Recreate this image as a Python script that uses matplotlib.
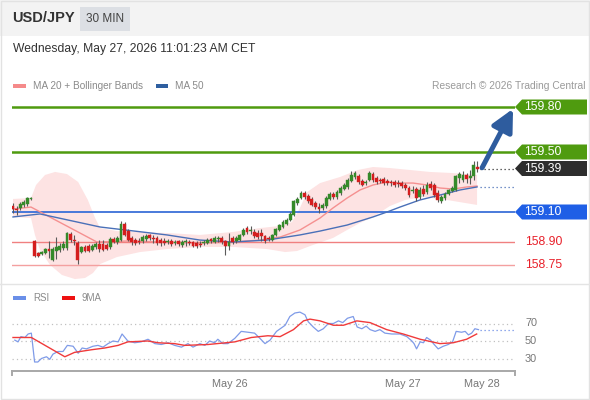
import matplotlib
matplotlib.use('Agg')
import matplotlib.pyplot as plt
from matplotlib.patches import Rectangle, Polygon
import matplotlib.transforms as mtransforms

plt.rcParams['font.family'] = ['Liberation Sans', 'DejaVu Sans']

# ---------------- data ----------------
opens = [159.140, 159.120, 159.127, 159.147, 159.153, 159.187, 158.907, 158.827, 158.820, 158.827,
         158.853, 158.780, 158.840, 158.847, 158.860, 158.860, 158.953, 158.913, 158.893, 158.833,
         158.867, 158.873, 158.847, 158.867, 158.887, 158.887, 158.880, 158.867, 158.920, 158.900,
         158.913, 159.020, 158.973, 158.927, 158.913, 158.907, 158.907, 158.920, 158.947, 158.927,
         158.927, 158.913, 158.907, 158.900, 158.907, 158.893, 158.907, 158.880, 158.900, 158.900,
         158.900, 158.893, 158.887, 158.893, 158.893, 158.920, 158.900, 158.920, 158.927, 158.907,
         158.873, 158.927, 158.907, 158.913, 158.947, 158.993, 158.973, 158.967, 158.960, 158.960,
         158.940, 158.927, 158.913, 158.947, 158.980, 159.000, 159.020, 159.047, 159.080, 159.160,
         159.193, 159.227, 159.207, 159.187, 159.160, 159.133, 159.127, 159.140, 159.187, 159.220,
         159.200, 159.227, 159.253, 159.267, 159.307, 159.333, 159.340, 159.307, 159.293, 159.313,
         159.353, 159.327, 159.313, 159.320, 159.307, 159.300, 159.300, 159.293, 159.293, 159.280,
         159.260, 159.240, 159.253, 159.200, 159.253, 159.233, 159.287, 159.280, 159.227, 159.173,
         159.193, 159.220, 159.240, 159.247, 159.327, 159.313, 159.347, 159.327, 159.340, 159.400]
highs = [159.160, 159.140, 159.167, 159.180, 159.200, 159.200, 158.913, 158.833, 158.840, 158.860,
         158.907, 158.867, 158.933, 158.893, 158.907, 158.967, 158.967, 158.947, 158.907, 158.873,
         158.880, 158.887, 158.887, 158.900, 158.913, 158.913, 158.893, 158.933, 158.933, 158.940,
         159.040, 159.033, 158.987, 158.940, 158.927, 158.927, 158.947, 158.953, 158.953, 158.947,
         158.940, 158.927, 158.927, 158.920, 158.920, 158.913, 158.913, 158.913, 158.920, 158.913,
         158.907, 158.907, 158.907, 158.913, 158.927, 158.927, 158.940, 158.940, 158.940, 158.913,
         158.960, 158.940, 158.940, 158.953, 158.993, 159.007, 159.007, 158.987, 158.980, 158.987,
         158.947, 158.940, 158.953, 158.993, 159.020, 159.047, 159.060, 159.100, 159.180, 159.200,
         159.240, 159.240, 159.220, 159.200, 159.173, 159.160, 159.160, 159.207, 159.233, 159.233,
         159.247, 159.273, 159.293, 159.327, 159.373, 159.373, 159.353, 159.320, 159.313, 159.373,
         159.367, 159.340, 159.327, 159.333, 159.320, 159.313, 159.313, 159.313, 159.307, 159.293,
         159.273, 159.273, 159.267, 159.267, 159.280, 159.300, 159.307, 159.293, 159.247, 159.213,
         159.233, 159.253, 159.273, 159.347, 159.367, 159.373, 159.360, 159.380, 159.440, 159.440]
lows = [159.093, 159.080, 159.113, 159.133, 159.140, 159.180, 158.800, 158.800, 158.813, 158.820,
        158.793, 158.773, 158.787, 158.833, 158.847, 158.847, 158.900, 158.880, 158.753, 158.827,
        158.833, 158.833, 158.840, 158.853, 158.833, 158.840, 158.847, 158.853, 158.893, 158.887,
        158.907, 158.940, 158.907, 158.880, 158.880, 158.887, 158.893, 158.907, 158.913, 158.893,
        158.880, 158.873, 158.880, 158.887, 158.873, 158.880, 158.873, 158.867, 158.873, 158.880,
        158.867, 158.860, 158.867, 158.880, 158.887, 158.893, 158.893, 158.900, 158.887, 158.813,
        158.847, 158.887, 158.893, 158.907, 158.940, 158.953, 158.953, 158.927, 158.920, 158.907,
        158.893, 158.907, 158.907, 158.940, 158.973, 158.993, 159.013, 159.040, 159.073, 159.147,
        159.187, 159.187, 159.160, 159.140, 159.120, 159.093, 159.113, 159.127, 159.180, 159.187,
        159.187, 159.213, 159.247, 159.253, 159.300, 159.320, 159.287, 159.273, 159.280, 159.307,
        159.300, 159.287, 159.293, 159.280, 159.280, 159.273, 159.267, 159.267, 159.260, 159.247,
        159.200, 159.227, 159.173, 159.187, 159.207, 159.220, 159.247, 159.200, 159.167, 159.160,
        159.180, 159.213, 159.233, 159.240, 159.293, 159.300, 159.293, 159.287, 159.313, 159.367]
closes = [159.120, 159.113, 159.153, 159.167, 159.193, 159.193, 158.807, 158.807, 158.833, 158.853,
          158.840, 158.853, 158.867, 158.873, 158.887, 158.960, 158.913, 158.907, 158.780, 158.867,
          158.840, 158.840, 158.873, 158.887, 158.853, 158.847, 158.853, 158.920, 158.900, 158.927,
          159.020, 158.947, 158.913, 158.900, 158.893, 158.900, 158.933, 158.940, 158.927, 158.920,
          158.893, 158.893, 158.893, 158.907, 158.887, 158.900, 158.887, 158.900, 158.907, 158.893,
          158.873, 158.873, 158.880, 158.900, 158.913, 158.907, 158.927, 158.927, 158.900, 158.873,
          158.900, 158.900, 158.927, 158.947, 158.980, 158.967, 158.980, 158.940, 158.933, 158.940,
          158.907, 158.920, 158.947, 158.987, 159.013, 159.033, 159.047, 159.087, 159.173, 159.187,
          159.227, 159.200, 159.173, 159.147, 159.133, 159.120, 159.147, 159.193, 159.220, 159.200,
          159.233, 159.260, 159.280, 159.313, 159.347, 159.360, 159.300, 159.280, 159.300, 159.360,
          159.313, 159.300, 159.307, 159.293, 159.293, 159.293, 159.280, 159.287, 159.273, 159.260,
          159.213, 159.247, 159.193, 159.247, 159.220, 159.280, 159.260, 159.213, 159.180, 159.200,
          159.220, 159.247, 159.260, 159.340, 159.353, 159.347, 159.320, 159.340, 159.413, 159.390]

ma20_idx = [0, 5, 23.3, 32.5, 40.8, 51.9, 61.1, 68.6, 74.2, 79.7, 85.3, 88.9, 92.8, 96.4, 100,
            103.9, 107.5, 111.1, 115, 118.6, 122.2, 126.1, 128.9]
ma20_val = [159.120, 159.133, 158.900, 158.907, 158.900, 158.893, 158.900, 158.913, 158.933, 158.980,
            159.060, 159.127, 159.193, 159.247, 159.280, 159.300, 159.293, 159.293, 159.280, 159.260,
            159.253, 159.267, 159.273]
ma50_idx = [0, 7.5, 24.2, 42.8, 51.9, 61.1, 70.6, 79.7, 85.3, 92.8, 100, 103.9, 107.5, 113, 118.6,
            124.2, 128.9]
ma50_val = [159.067, 159.087, 159.000, 158.947, 158.913, 158.900, 158.913, 158.947, 158.973, 159.013,
            159.067, 159.100, 159.133, 159.180, 159.213, 159.247, 159.267]
bb_up_idx = [0, 5, 6.4, 8.9, 11.7, 15, 18.1, 20.8, 22.8, 24.2, 28.9, 33.3, 42.8, 51.9, 61.1, 68.6,
             74.2, 77.5, 79.7, 81.7, 85.3, 90.8, 95.8, 100, 104.7, 110.3, 115.8, 121.9, 128.9]
bb_up_val = [159.187, 159.193, 159.280, 159.347, 159.367, 159.353, 159.300, 159.180, 159.060, 158.993,
             158.973, 158.967, 158.960, 158.947, 158.967, 158.993, 159.007, 159.033, 159.127, 159.233,
             159.293, 159.333, 159.380, 159.400, 159.393, 159.380, 159.367, 159.360, 159.347]
bb_lo_idx = [0, 5, 6.1, 7.5, 10.3, 13.6, 17.2, 20, 22.2, 24.2, 28.9, 35.3, 42.8, 51.9, 61.1, 70.6,
             75.6, 78.9, 83.3, 88.9, 92.8, 96.4, 100, 104.7, 108.9, 113.9, 120.6, 125.6, 128.9]
bb_lo_val = [159.067, 159.060, 158.947, 158.847, 158.747, 158.680, 158.653, 158.660, 158.693, 158.753,
             158.800, 158.833, 158.853, 158.867, 158.867, 158.853, 158.833, 158.840, 158.880, 158.927,
             158.980, 159.027, 159.067, 159.140, 159.180, 159.200, 159.180, 159.160, 159.147]

rsi_idx = [0.5, 1.4, 2.2, 3.3, 4.2, 5.1, 6, 6.9, 7.9, 9.3, 10.2, 11.1, 12.5, 13.9, 15.1, 16.7, 18.1,
           19.2, 20.4, 22.2, 23.6, 25, 26.4, 27.8, 29.2, 30.3, 31.9, 33.8, 35.6, 37.5, 39.4, 41.2,
           43.1, 44.9, 46.8, 48.6, 50, 51.9, 53.3, 54.6, 56, 56.9, 58.3, 59.7, 61.6, 63.4, 65.3,
           67.1, 68.6, 70, 71.4, 73.2, 75.6, 76.9, 78.3, 79.7, 81.1, 82, 83.4, 84.8, 86.2, 87.6, 89,
           90.4, 91.6, 92.9, 94.5, 95.6, 96.9, 98.1, 99.2, 100.6, 101.9, 103.3, 105.2, 107.5, 109.4,
           110.8, 111.4, 112.1, 113.1, 114, 114.9, 116, 117, 118.1, 119.5, 120.9, 122.1, 123.1,
           124.6, 125.6, 126.5, 127.4, 128.3, 129.3]
rsi_val = [51, 49, 55, 54, 58, 59, 26, 26, 30, 32, 29, 35, 38, 38, 45, 44, 36, 42, 41, 44, 45, 43,
           47, 50, 49, 58, 50, 48, 49, 52, 47, 46, 48, 45, 43, 47, 43, 47, 45, 50, 48, 52, 47, 47,
           53, 61, 60, 59, 53, 47, 51, 61, 68, 78, 82, 83, 80, 72, 66, 61, 64, 70, 70, 73, 71, 76,
           78, 66, 64, 67, 63, 61, 63, 59, 58, 58, 55, 50, 47, 41, 49, 48, 54, 51, 46, 41, 44, 46,
           49, 61, 60, 61, 57, 59, 64, 63]
ma9_idx = [0, 5.1, 14.4, 17.1, 21.8, 25.5, 29.2, 31.9, 37.5, 40.3, 44.9, 47.7, 54.2, 61.6, 66.2,
           70.8, 74.2, 77.9, 80.7, 82.5, 85.3, 89, 91.8, 95.5, 99.2, 103.8, 108.4, 113.1, 118.6,
           122.3, 126, 128.8]
ma9_val = [54, 54, 32, 37, 40, 42, 45, 49, 50, 48, 47, 45, 46, 49, 54, 56, 55, 63, 73, 75, 73, 68,
           68, 73, 71, 63, 58, 52, 47, 48, 52, 58]

levels = [159.80, 159.50, 159.10, 158.90, 158.75]
last_price = 159.39
target = 159.80
rsi_levels = [70, 50, 30]
date_ticks = [60.3, 108.3, 130.2]
date_labels = ['May 26', 'May 27', 'May 28']

# ---------------- layout helpers ----------------
W, H = 590, 400
fig = plt.figure(figsize=(W / 100, H / 100), dpi=100)
fig.patch.set_facecolor('white')

def fx(px):
    return px / W

def fy(py):
    return 1 - py / H

GREEN_UP = '#358a2a'
RED_DN = '#d41e1e'
GREEN_LVL = '#4f9b0f'
BLUE_LVL = '#1f5fe6'
RED_LVL = '#e8202a'
GRAY_TXT = '#8a8a8a'

# header
fig.add_artist(Rectangle((0, fy(36)), 1, 36 / H, transform=fig.transFigure,
                         facecolor='#f3f3f3', edgecolor='none', zorder=0))
fig.add_artist(Rectangle((fx(80), fy(31)), fx(50), 24 / H, transform=fig.transFigure,
                         facecolor='#dcdfe4', edgecolor='none', zorder=1))
fig.text(fx(12), fy(18), 'USD/JPY', fontsize=10.5, fontweight='bold', color='#333333',
         va='center', ha='left')
fig.text(fx(105), fy(19), '30 MIN', fontsize=8.5, color='#444444', va='center', ha='center')
fig.text(fx(13), fy(49), 'Wednesday, May 27, 2026 11:01:23 AM CET', fontsize=8.7,
         color='#333333', va='center', ha='left')

# legend top
fig.add_artist(Rectangle((fx(13), fy(88)), fx(13), 4 / H, transform=fig.transFigure,
                         facecolor='#f58a8a', edgecolor='none'))
fig.text(fx(33), fy(86), 'MA 20 + Bollinger Bands', fontsize=7.2, color=GRAY_TXT,
         va='center', ha='left')
fig.add_artist(Rectangle((fx(156), fy(88)), fx(12), 4 / H, transform=fig.transFigure,
                         facecolor='#2f5fa0', edgecolor='none'))
fig.text(fx(175), fy(86), 'MA 50', fontsize=7.2, color=GRAY_TXT, va='center', ha='left')
fig.text(fx(586), fy(86), 'Research \u00a9 2026 Trading Central', fontsize=7.4,
         color='#9a9a9a', va='center', ha='right')

# separator and frame
fig.add_artist(plt.Line2D([0, 1], [fy(284), fy(284)], transform=fig.transFigure,
                          color='#e4e4e4', lw=1))
fig.add_artist(Rectangle((0.001, 0.002), 0.997, 0.996, transform=fig.transFigure,
                         facecolor='none', edgecolor='#e2e2e2', lw=1))

# ---------------- main price axes ----------------
n = len(closes)
x0_px, x1_px = 12, 515
step = 3.6
xl = ((x0_px - 13) / step, (x1_px - 13) / step)
ax = fig.add_axes([fx(x0_px), fy(282), fx(x1_px) - fx(x0_px), (282 - 95) / H])
ax.set_xlim(*xl)
ax.set_ylim(159.5 - 130 / 150, 159.5 + 57 / 150)
ax.axis('off')

# bollinger band
band_pts = list(zip(bb_up_idx, bb_up_val)) + list(zip(bb_lo_idx[::-1], bb_lo_val[::-1]))
ax.add_patch(Polygon(band_pts, closed=True, facecolor='#fde0e0', edgecolor='none',
                     alpha=0.9, zorder=1))

# level lines
lvl_colors = [GREEN_LVL, GREEN_LVL, '#3a6fd8', '#f08080', '#f4a0a0']
lvl_widths = [1.8, 1.8, 1.3, 1.0, 1.0]
for lv, c, lw in zip(levels, lvl_colors, lvl_widths):
    ax.axhline(lv, color=c, lw=lw, zorder=2)

# moving averages
ax.plot(ma20_idx, ma20_val, color='#f59090', lw=1.0, zorder=3)
ax.plot(ma50_idx, ma50_val, color='#4a70b8', lw=1.0, zorder=3)

# candles
for i in range(n):
    o, h, l, c = opens[i], highs[i], lows[i], closes[i]
    col = GREEN_UP if c >= o else RED_DN
    ax.vlines(i, l, h, color='#5a5a5a', lw=0.8, zorder=4)
    body = max(abs(c - o), 0.005)
    ax.bar(i, body, bottom=min(o, c), width=0.8, color=col, edgecolor=col, lw=0.3, zorder=5)

# dotted lines to labels
ax.hlines(last_price, n - 0.4, xl[1], colors='#333333', lw=0.9, linestyles=(0, (1, 2.2)),
          zorder=3)
ax.hlines(ma50_val[-1], n - 0.4, xl[1], colors='#4a70b8', lw=0.9, linestyles=(0, (1, 2.2)),
          zorder=3)

# arrow
ax.annotate('', xy=(138.9, target - 0.012), xytext=(n + 0.3, last_price + 0.005),
            arrowprops=dict(arrowstyle='-|>,head_length=0.6,head_width=0.3', lw=3.6,
                            color='#2e5c9e', shrinkA=0, shrinkB=0, mutation_scale=22),
            annotation_clip=False, zorder=6)

# right labels
blend = mtransforms.blended_transform_factory(fig.transFigure, ax.transData)
hh = 7.5 / 150

def tag(price, text, face):
    pts = [(fx(515), price), (fx(522), price + hh), (fx(587), price + hh),
           (fx(587), price - hh), (fx(522), price - hh)]
    ax.add_patch(Polygon(pts, closed=True, transform=blend, facecolor=face, edgecolor='none',
                         clip_on=False, zorder=7))
    ax.text(fx(524), price, text, transform=blend, ha='left', va='center', color='white',
            fontsize=8.7, clip_on=False, zorder=8)

tag(levels[0], f'{levels[0]:.2f}', GREEN_LVL)
tag(levels[1], f'{levels[1]:.2f}', GREEN_LVL)
tag(last_price, f'{last_price:.2f}', '#2d2d2d')
tag(levels[2], f'{levels[2]:.2f}', BLUE_LVL)
for lv in levels[3:]:
    ax.text(fx(525), lv, f'{lv:.2f}', transform=blend, ha='left', va='center', color=RED_LVL,
            fontsize=8.7, clip_on=False)

# ---------------- RSI axes ----------------
rax = fig.add_axes([fx(x0_px), fy(371), fx(x1_px) - fx(x0_px), (371 - 310) / H])
rax.set_xlim(*xl)
rax.set_ylim(50 - 30 / 0.875, 50 + 31 / 0.875)
for s in ['top', 'left', 'right']:
    rax.spines[s].set_visible(False)
rax.spines['bottom'].set_color('#a8a8a8')
rax.spines['bottom'].set_linewidth(1.4)
rax.set_yticks([])
rax.set_xticks(date_ticks)
rax.set_xticklabels(date_labels, fontsize=7.8, color='#777777')
rax.tick_params(axis='x', length=0, pad=6)
for xe in xl:
    rax.plot([xe, xe], [0, -0.06], transform=mtransforms.blended_transform_factory(
        rax.transData, rax.transAxes), color='#a8a8a8', lw=1.4, clip_on=False)

for lv in rsi_levels:
    rax.axhline(lv, color='#c0c0c0', lw=0.9, linestyle=(0, (1, 2.5)))
    rax.text(fx(525), lv, str(lv), transform=mtransforms.blended_transform_factory(
        fig.transFigure, rax.transData), ha='left', va='center', fontsize=7.8, color='#777777')

rax.plot(rsi_idx, rsi_val, color='#7f9be8', lw=0.9)
rax.plot(ma9_idx, ma9_val, color='#f03a3a', lw=1.0)
rax.hlines(rsi_val[-1], rsi_idx[-1] + 0.5, xl[1], colors='#6f8fe6', lw=0.9,
           linestyles=(0, (1, 2.2)))

# RSI legend
fig.add_artist(Rectangle((fx(13), fy(300)), fx(13), 4 / H, transform=fig.transFigure,
                         facecolor='#6a8fe8', edgecolor='none'))
fig.text(fx(33), fy(298), 'RSI', fontsize=7, color=GRAY_TXT, va='center', ha='left')
fig.add_artist(Rectangle((fx(62), fy(300)), fx(13), 4 / H, transform=fig.transFigure,
                         facecolor='#ee1111', edgecolor='none'))
fig.text(fx(82), fy(298), '9MA', fontsize=7, color=GRAY_TXT, va='center', ha='left')

fig.savefig('out.png', dpi=100)
